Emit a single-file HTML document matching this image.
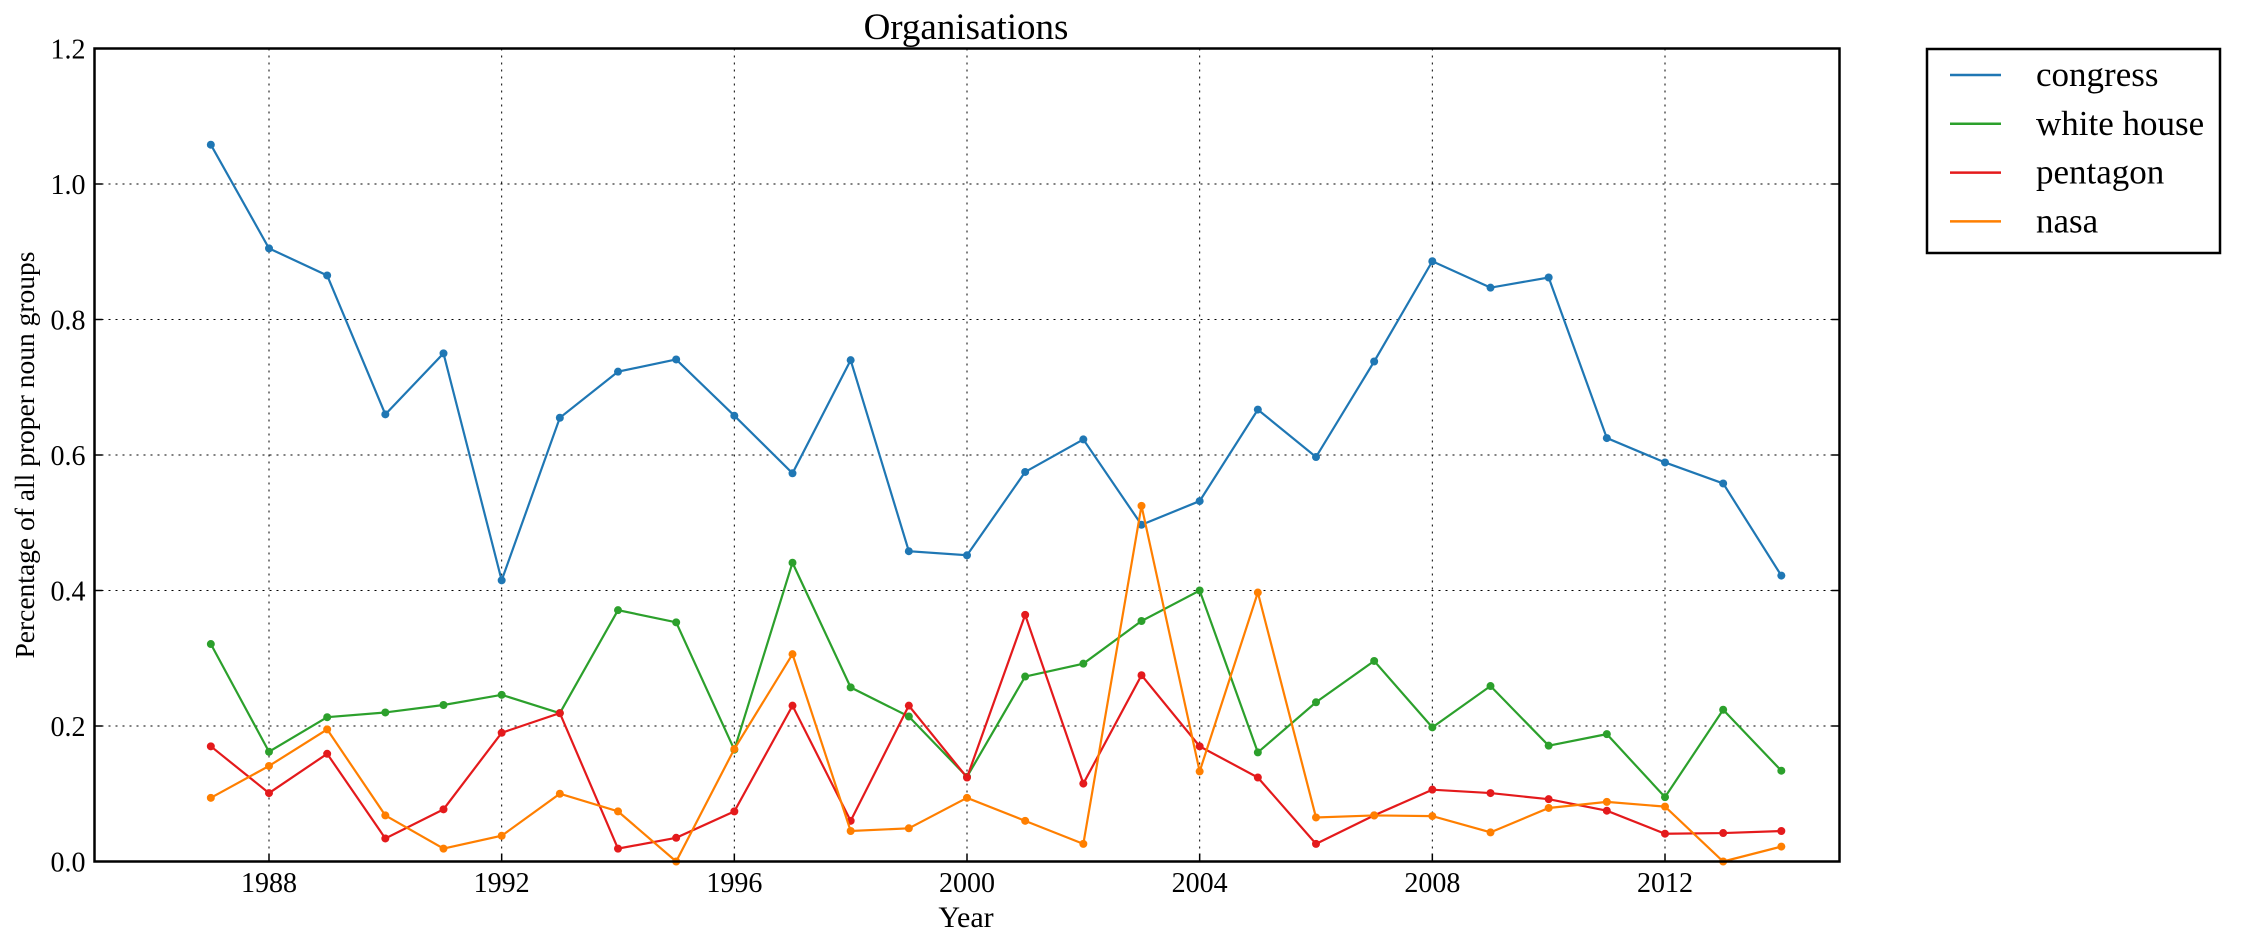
<!DOCTYPE html>
<html><head><meta charset="utf-8"><style>
html,body{margin:0;padding:0;background:#fff;}
svg{display:block;font-family:"Liberation Serif",serif;}
</style></head><body>
<svg id="chart" width="2244" height="948" viewBox="0 0 2244 948" xmlns="http://www.w3.org/2000/svg">
<text x="966" y="39" font-size="37" text-anchor="middle">Organisations</text>
<text x="966" y="927" font-size="30" text-anchor="middle">Year</text>
<text transform="translate(34,455) rotate(-90)" font-size="27.5" text-anchor="middle">Percentage of all proper noun groups</text>
<g id="grid"></g>
<g id="series"></g>
<rect x="94.5" y="48.5" width="1745" height="813" fill="none" stroke="#000" stroke-width="2.5"/>
<g id="ticks"></g>
<g>
<rect x="1927" y="49" width="293" height="204" fill="#fff" stroke="#000" stroke-width="2.5"/>
<g id="legend-items"></g>
</g>
</svg>
<script>
const years = [1987,1988,1989,1990,1991,1992,1993,1994,1995,1996,1997,1998,1999,2000,2001,2002,2003,2004,2005,2006,2007,2008,2009,2010,2011,2012,2013,2014];
const congress = [1.058,0.905,0.865,0.66,0.75,0.415,0.655,0.723,0.741,0.658,0.573,0.74,0.458,0.452,0.575,0.623,0.497,0.532,0.667,0.597,0.738,0.886,0.847,0.862,0.625,0.589,0.558,0.422];
const whiteHouse = [0.321,0.162,0.213,0.220,0.231,0.246,0.219,0.371,0.353,0.165,0.441,0.257,0.214,0.125,0.273,0.292,0.355,0.400,0.161,0.235,0.296,0.198,0.259,0.171,0.188,0.095,0.224,0.134];
const pentagon = [0.170,0.101,0.159,0.034,0.077,0.190,0.219,0.019,0.035,0.074,0.230,0.060,0.230,0.124,0.364,0.115,0.275,0.170,0.124,0.026,0.068,0.106,0.101,0.092,0.075,0.041,0.042,0.045];
const nasa = [0.094,0.141,0.195,0.068,0.019,0.038,0.100,0.074,0.000,0.166,0.306,0.045,0.049,0.094,0.060,0.026,0.525,0.133,0.397,0.065,0.068,0.067,0.043,0.079,0.088,0.081,0.000,0.022];
const seriesNames = ["congress","white house","pentagon","nasa"];
const seriesColors = ["#1f77b4","#2ca02c","#e41a1c","#ff7f00"];
const xTicks = [1988,1992,1996,2000,2004,2008,2012];
const yTicks = [0.0,0.2,0.4,0.6,0.8,1.0,1.2];

const NS="http://www.w3.org/2000/svg";
const L=94.5,R=1839.5,T=48.5,B=861.5;
const xs=y=>L+(y-1985)/(2015-1985)*(R-L);
const ys=v=>B-v/1.2*(B-T);
function mk(tag,attrs,parent){const e=document.createElementNS(NS,tag);for(const k in attrs)e.setAttribute(k,attrs[k]);parent.appendChild(e);return e;}
const grid=document.getElementById('grid'),ticks=document.getElementById('ticks'),sg=document.getElementById('series'),lg=document.getElementById('legend-items');
xTicks.forEach(t=>{
  const x=xs(t);
  const g=mk('line',{x1:x,x2:x,y1:T,y2:B,stroke:'#000','stroke-width':1,'stroke-dasharray':'2,5'},grid);
  
  
  mk('line',{x1:x,x2:x,y1:B,y2:B-8,stroke:'#000','stroke-width':1.5},ticks);
  const tx=mk('text',{x:x,y:892,'font-size':28,'text-anchor':'middle'},ticks);
  tx.textContent=t;
  
  
});
yTicks.forEach(t=>{
  const y=ys(t);
  if(t>0&&t<1.2){const g=mk('line',{x1:L,x2:R,y1:y,y2:y,stroke:'#000','stroke-width':1,'stroke-dasharray':'2,5'},grid);
  
  }
  mk('line',{x1:L,x2:L+8,y1:y,y2:y,stroke:'#000','stroke-width':1.5},ticks);
  mk('line',{x1:R,x2:R-8,y1:y,y2:y,stroke:'#000','stroke-width':1.5},ticks);
  const tx=mk('text',{x:L-9,y:y+10,'font-size':28,'text-anchor':'end'},ticks);
  tx.textContent=t.toFixed(1);
  
  
});
[congress,whiteHouse,pentagon,nasa].forEach((vals,i)=>{
  const pts=vals.map((v,j)=>xs(years[j])+','+ys(v)).join(' ');
  const pl=mk('polyline',{points:pts,fill:'none',stroke:seriesColors[i],'stroke-width':2.2},sg);
  
  
  vals.forEach((v,j)=>{
    const c=mk('circle',{cx:xs(years[j]),cy:ys(v),r:4,fill:seriesColors[i]},sg);
    
    
  });
  const y=75+i*48.8;
  const ll=mk('line',{x1:1950,x2:2001,y1:y,y2:y,stroke:seriesColors[i],'stroke-width':2.5},lg);
  
  
  const tx=mk('text',{x:2036,y:y+11,'font-size':35},lg);
  tx.textContent=seriesNames[i];
  
  
});
</script>
</body></html>
